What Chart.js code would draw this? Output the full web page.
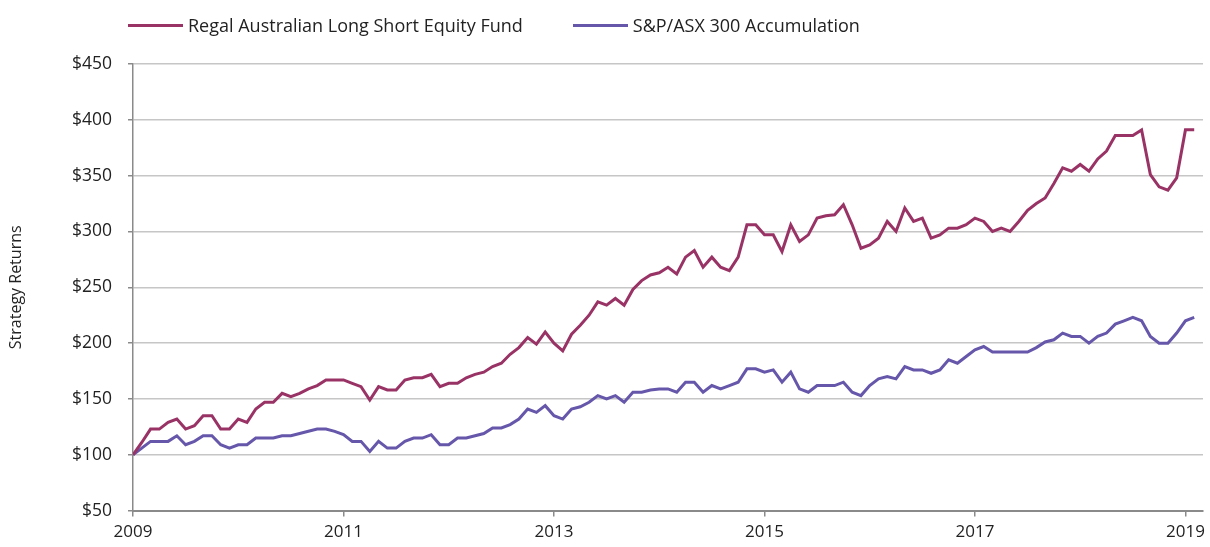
<!DOCTYPE html>
<html>
<head>
<meta charset="utf-8">
<script src="https://cdn.jsdelivr.net/npm/chart.js@4/dist/chart.umd.min.js"></script>
<style>
    html, body { margin: 0; padding: 0; background: #ffffff; }
    #wrap { position: relative; width: 1210px; height: 547px; }
    #legend {
        position: absolute; left: 128px; top: 13px;
        display: flex; align-items: center;
        font-family: "Open Sans", "Noto Sans", sans-serif; font-size: 18px; color: #222;
    }
    .item { display: flex; align-items: center; margin-right: 50px; }
    .swatch { width: 55px; height: 3px; margin-right: 5px; }
</style>
</head>
<body>
<div id="wrap">
    <div id="legend"></div>
    <canvas id="returnsChart" width="1210" height="547"></canvas>
</div>
<script>
// Monthly values, Jan 2009 .. Feb 2019 (growth of $100)
const startYear = 2009;
const yearTicks = [2009, 2011, 2013, 2015, 2017, 2019];
const seriesNames = ['Regal Australian Long Short Equity Fund', 'S&P/ASX 300 Accumulation'];

const fundValues = [
    100, 111, 123, 123, 129, 132, 123, 126, 135, 135, 123, 123,
    132, 129, 141, 147, 147, 155, 152, 155, 159, 162, 167, 167,
    167, 164, 161, 149, 161, 158, 158, 167, 169, 169, 172, 161,
    164, 164, 169, 172, 174, 179, 182, 190, 196, 205, 199, 210,
    200, 193, 208, 216, 225, 237, 234, 240, 234, 248, 256, 261,
    263, 268, 262, 277, 283, 268, 277, 268, 265, 277, 306, 306,
    297, 297, 282, 306, 291, 297, 312, 314, 315, 324, 306, 285,
    288, 294, 309, 300, 321, 309, 312, 294, 297, 303, 303, 306,
    312, 309, 300, 303, 300, 309, 319, 325, 330, 343, 357, 354,
    360, 354, 365, 372, 386, 386, 386, 391, 351, 340, 337, 348,
    391, 391
];

const indexValues = [
    100, 106, 112, 112, 112, 117, 109, 112, 117, 117, 109, 106,
    109, 109, 115, 115, 115, 117, 117, 119, 121, 123, 123, 121,
    118, 112, 112, 103, 112, 106, 106, 112, 115, 115, 118, 109,
    109, 115, 115, 117, 119, 124, 124, 127, 132, 141, 138, 144,
    135, 132, 141, 143, 147, 153, 150, 153, 147, 156, 156, 158,
    159, 159, 156, 165, 165, 156, 162, 159, 162, 165, 177, 177,
    174, 176, 165, 174, 159, 156, 162, 162, 162, 165, 156, 153,
    162, 168, 170, 168, 179, 176, 176, 173, 176, 185, 182, 188,
    194, 197, 192, 192, 192, 192, 192, 196, 201, 203, 209, 206,
    206, 200, 206, 209, 217, 220, 223, 220, 206, 200, 200, 209,
    220, 223
];

const colors = ['#993366', '#6657ab'];
const fontFamily = '"Open Sans", "Noto Sans", sans-serif';

function toPoints(values) {
    return values.map((v, i) => ({ x: i, y: v }));
}

// HTML legend
const legendEl = document.getElementById('legend');
seriesNames.forEach((name, i) => {
    const item = document.createElement('div');
    item.className = 'item';
    const sw = document.createElement('span');
    sw.className = 'swatch';
    sw.style.background = colors[i];
    const txt = document.createElement('span');
    txt.textContent = name;
    item.appendChild(sw);
    item.appendChild(txt);
    legendEl.appendChild(item);
});

const ctx = document.getElementById('returnsChart').getContext('2d');
new Chart(ctx, {
    type: 'line',
    data: {
        datasets: [
            { label: seriesNames[0], data: toPoints(fundValues), borderColor: colors[0], borderWidth: 3, pointRadius: 0, tension: 0 },
            { label: seriesNames[1], data: toPoints(indexValues), borderColor: colors[1], borderWidth: 3, pointRadius: 0, tension: 0 }
        ]
    },
    options: {
        responsive: false,
        animation: false,
        layout: { padding: { top: 64, right: 7, bottom: 0, left: 0 } },
        plugins: {
            legend: { display: false },
            tooltip: { enabled: false }
        },
        scales: {
            x: {
                type: 'linear',
                min: 0,
                max: 122,
                afterBuildTicks: axis => {
                    axis.ticks = yearTicks.map(y => ({ value: (y - startYear) * 12 }));
                },
                ticks: {
                    callback: v => String(startYear + v / 12),
                    color: '#222',
                    font: { family: fontFamily, size: 17 },
                    padding: 5,
                    maxRotation: 0,
                    autoSkip: false
                },
                grid: { drawOnChartArea: false, drawTicks: true, tickLength: 6, tickColor: '#8a8a8a', lineWidth: 1.5 },
                border: { color: '#8a8a8a', width: 2 }
            },
            y: {
                min: 50,
                max: 450,
                afterFit: scale => { scale.width = 133; },
                ticks: {
                    stepSize: 50,
                    callback: v => '$' + v,
                    color: '#222',
                    font: { family: fontFamily, size: 17.5 },
                    padding: 16
                },
                grid: { color: '#c6c6c6', lineWidth: 1.5, tickLength: 5, tickColor: '#8a8a8a' },
                border: { color: '#8a8a8a', width: 1.5 },
                title: {
                    display: true,
                    text: 'Strategy Returns',
                    color: '#222',
                    font: { family: fontFamily, size: 16 },
                    padding: { top: 7, bottom: 0 }
                }
            }
        }
    }
});
</script>
</body>
</html>
